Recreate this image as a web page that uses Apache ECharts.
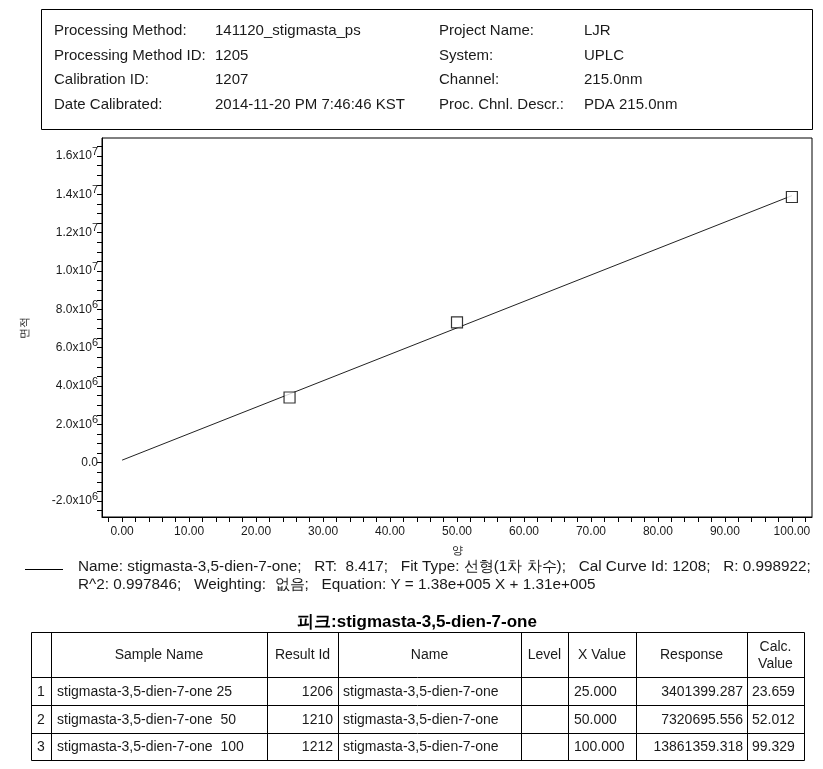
<!DOCTYPE html>
<html>
<head>
<meta charset="utf-8">
<script src="https://cdn.jsdelivr.net/npm/echarts@6/dist/echarts.min.js"></script>
<style>
html,body{margin:0;padding:0;background:#fff;}
#chart{width:823px;height:769px;}
</style>
</head>
<body>
<div id="chart"></div>
<script>
// ---------- data ----------
const xValues = [25, 50, 100];
const responses = [3401399.287, 7320695.556, 13861359.318];
const fitX = [0, 100];
const fitY = [131000, 13931000];
const yLabelValues = [-2000000, 0, 2000000, 4000000, 6000000, 8000000, 10000000, 12000000, 14000000, 16000000];
const xLabelValues = [0, 10, 20, 30, 40, 50, 60, 70, 80, 90, 100];

const headerLeftKeys = ['Processing Method:', 'Processing Method ID:', 'Calibration ID:', 'Date Calibrated:'];
const headerLeftVals = ['141120_stigmasta_ps', '1205', '1207', '2014-11-20 PM 7:46:46 KST'];
const headerRightKeys = ['Project Name:', 'System:', 'Channel:', 'Proc. Chnl. Descr.:'];
const headerRightVals = ['LJR', 'UPLC', '215.0nm', 'PDA 215.0nm'];

const legendLine1 = 'Name: stigmasta-3,5-dien-7-one;   RT:  8.417;   Fit Type: 선형(1차 차수);   Cal Curve Id: 1208;   R: 0.998922;';
const legendLine2 = 'R^2: 0.997846;   Weighting:  없음;   Equation: Y = 1.38e+005 X + 1.31e+005';
const tableTitle = '피크:stigmasta-3,5-dien-7-one';

const colHeaders = ['', 'Sample Name', 'Result Id', 'Name', 'Level', 'X Value', 'Response', 'Calc.\nValue'];
const rowNums = ['1', '2', '3'];
const sampleNames = ['stigmasta-3,5-dien-7-one 25', 'stigmasta-3,5-dien-7-one  50', 'stigmasta-3,5-dien-7-one  100'];
const resultIds = ['1206', '1210', '1212'];
const compoundNames = ['stigmasta-3,5-dien-7-one', 'stigmasta-3,5-dien-7-one', 'stigmasta-3,5-dien-7-one'];
const levels = ['', '', ''];
const xValueTexts = ['25.000', '50.000', '100.000'];
const responseTexts = ['3401399.287', '7320695.556', '13861359.318'];
const calcValues = ['23.659', '52.012', '99.329'];

// ---------- layout ----------
const FONT = '"Liberation Sans", Arial, sans-serif';
const TXT = '#1a1a1a';

const yTicks = [];
for (let v = -2500000; v <= 16500000; v += 500000) yTicks.push(v);
const xTicks = [];
for (let v = -2; v <= 102; v += 2) xTicks.push(v);

function yFmt(v) {
  if (v === 0) return '0.0';
  const a = Math.abs(v);
  const e = Math.floor(Math.log10(a) + 1e-9);
  const m = (v / Math.pow(10, e)).toFixed(1);
  return m + 'x10{s|' + e + '}';
}

const graphics = [];
// header box
graphics.push({type:'rect', shape:{x:41.5, y:9.5, width:771, height:120}, style:{fill:'none', stroke:'#000', lineWidth:1}});
const hy = [31, 55.5, 80, 104.5];
for (let i = 0; i < 4; i++) {
  graphics.push({type:'text', x:54, y:hy[i], style:{text:headerLeftKeys[i], font:'15px ' + FONT, fill:TXT, textVerticalAlign:'middle'}});
  graphics.push({type:'text', x:215, y:hy[i], style:{text:headerLeftVals[i], font:'15px ' + FONT, fill:TXT, textVerticalAlign:'middle'}});
  graphics.push({type:'text', x:439, y:hy[i], style:{text:headerRightKeys[i], font:'15px ' + FONT, fill:TXT, textVerticalAlign:'middle'}});
  graphics.push({type:'text', x:584, y:hy[i], style:{text:headerRightVals[i], font:'15px ' + FONT, fill:TXT, textVerticalAlign:'middle'}});
}
// legend
graphics.push({type:'line', shape:{x1:25, y1:569.5, x2:63, y2:569.5}, style:{stroke:'#000', lineWidth:1}});
graphics.push({type:'text', x:78, y:567, style:{text:legendLine1, font:'15.3px ' + FONT, fill:TXT, textVerticalAlign:'middle'}});
graphics.push({type:'text', x:78, y:585, style:{text:legendLine2, font:'15.3px ' + FONT, fill:TXT, textVerticalAlign:'middle'}});
// table title
graphics.push({type:'text', x:417, y:622, style:{text:tableTitle, font:'bold 17px ' + FONT, fill:'#000', textAlign:'center', textVerticalAlign:'middle'}});
// table grid
const colX = [31, 51, 267, 338, 521, 568, 636, 747, 804];
const rowY = [632, 677, 705, 733, 760];
graphics.push({type:'rect', shape:{x:colX[0]+0.5, y:rowY[0]+0.5, width:colX[8]-colX[0], height:rowY[4]-rowY[0]}, style:{fill:'none', stroke:'#000', lineWidth:1}});
for (let i = 1; i < colX.length - 1; i++) {
  graphics.push({type:'line', shape:{x1:colX[i]+0.5, y1:rowY[0], x2:colX[i]+0.5, y2:rowY[4]}, style:{stroke:'#000', lineWidth:1}});
}
for (let j = 1; j < rowY.length - 1; j++) {
  graphics.push({type:'line', shape:{x1:colX[0], y1:rowY[j]+0.5, x2:colX[8], y2:rowY[j]+0.5}, style:{stroke:'#000', lineWidth:1}});
}
const CF = '14px ' + FONT;
for (let c = 1; c < colHeaders.length; c++) {
  graphics.push({type:'text', x:(colX[c]+colX[c+1])/2, y:(rowY[0]+rowY[1])/2 + 1, style:{text:colHeaders[c], font:CF, fill:TXT, textAlign:'center', textVerticalAlign:'middle', lineHeight:17}});
}
for (let r = 0; r < 3; r++) {
  const cy = (rowY[r+1] + rowY[r+2]) / 2 + 1;
  graphics.push({type:'text', x:(colX[0]+colX[1])/2, y:cy, style:{text:rowNums[r], font:CF, fill:TXT, textAlign:'center', textVerticalAlign:'middle'}});
  graphics.push({type:'text', x:colX[1]+6, y:cy, style:{text:sampleNames[r], font:CF, fill:TXT, textVerticalAlign:'middle'}});
  graphics.push({type:'text', x:colX[3]-5, y:cy, style:{text:resultIds[r], font:CF, fill:TXT, textAlign:'right', textVerticalAlign:'middle'}});
  graphics.push({type:'text', x:colX[3]+5, y:cy, style:{text:compoundNames[r], font:CF, fill:TXT, textVerticalAlign:'middle'}});
  graphics.push({type:'text', x:colX[4]+5, y:cy, style:{text:levels[r], font:CF, fill:TXT, textVerticalAlign:'middle'}});
  graphics.push({type:'text', x:colX[5]+6, y:cy, style:{text:xValueTexts[r], font:CF, fill:TXT, textVerticalAlign:'middle'}});
  graphics.push({type:'text', x:colX[7]-4, y:cy, style:{text:responseTexts[r], font:CF, fill:TXT, textAlign:'right', textVerticalAlign:'middle'}});
  graphics.push({type:'text', x:colX[7]+5, y:cy, style:{text:calcValues[r], font:CF, fill:TXT, textVerticalAlign:'middle'}});
}

const chart = echarts.init(document.getElementById('chart'), null, {renderer:'canvas'});
chart.setOption({
  backgroundColor:'#fff',
  animation:false,
  textStyle:{fontFamily:FONT},
  grid:{left:102, top:138, right:11, bottom:252, show:true, borderColor:'#000', borderWidth:1, backgroundColor:'transparent'},
  xAxis:{
    type:'value', min:-3, max:103,
    name:'양', nameLocation:'middle', nameGap:28, nameTextStyle:{fontSize:11, color:TXT, fontFamily:FONT},
    axisLine:{show:true, onZero:false, lineStyle:{color:'#000', width:1}},
    axisTick:{show:true, inside:false, length:5, lineStyle:{color:'#000'}, customValues:xTicks},
    axisLabel:{show:true, color:TXT, fontSize:12, margin:9, fontFamily:FONT, customValues:xLabelValues, formatter:function(v){return v.toFixed(2);}},
    splitLine:{show:false}
  },
  yAxis:{
    type:'value', min:-2835000, max:16940000,
    name:'면적', nameLocation:'middle', nameGap:72, nameRotate:90, nameTextStyle:{fontSize:11, color:TXT, fontFamily:FONT},
    axisLine:{show:true, onZero:false, lineStyle:{color:'#000', width:1}},
    axisTick:{show:true, inside:false, length:5, lineStyle:{color:'#000'}, customValues:yTicks},
    axisLabel:{show:true, color:TXT, fontSize:12, margin:4, fontFamily:FONT, customValues:yLabelValues, formatter:yFmt,
      rich:{s:{fontSize:11, fontFamily:FONT, color:TXT, padding:[0,0,9,0], verticalAlign:'bottom'}}},
    splitLine:{show:false}
  },
  series:[
    {type:'line', data:fitX.map((x,i)=>[x, fitY[i]]), showSymbol:false, symbol:'none', lineStyle:{color:'#222', width:1}, z:2, silent:true},
    {type:'scatter', data:xValues.map((x,i)=>[x, responses[i]]), symbol:'rect', symbolSize:11,
      itemStyle:{color:'#fff', borderColor:'#000', borderWidth:1.2}, z:3}
  ],
  graphic:graphics
});
</script>
</body>
</html>
